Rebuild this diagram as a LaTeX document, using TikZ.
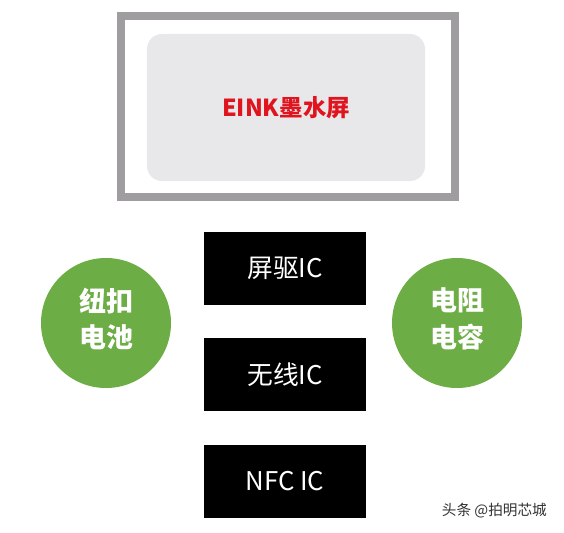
\documentclass[tikz,border=0pt]{standalone}
\usepackage{fontspec}
\setmainfont{Noto Sans CJK SC}
\usepackage{xcolor}
\usepackage{tikz}
\usetikzlibrary{positioning}

\definecolor{framegray}{HTML}{A09DA1}
\definecolor{screengray}{HTML}{E8E8EA}
\definecolor{einkred}{HTML}{E0141E}
\definecolor{partgreen}{HTML}{6DAD45}

\begin{document}
\begin{tikzpicture}
[
	x = 0.03cm, y = -0.03cm,
	node distance = 0.99cm and 0.6cm,
	frame/.style = {draw = framegray, line width = 0.22cm, minimum width = 10.02cm, minimum height = 5.43cm},
	screen/.style = {rounded corners = 0.45cm, fill = screengray, minimum width = 8.34cm, minimum height = 4.41cm, font = \bfseries\fontsize{20}{24}\selectfont, text = einkred},
	chip/.style = {fill = black, minimum width = 4.86cm, minimum height = 2.19cm, text = white, font = \fontsize{22}{26}\selectfont},
	part/.style = {circle, fill = partgreen, minimum size = 3.9cm, inner sep = 0cm, text = white, align = center, font = \bfseries\fontsize{23}{31}\selectfont},
]

	\useasboundingbox [fill = white] (0,0) rectangle (564,532);

	% display
	\node (frame) [frame] at (288,106.5) {};
	\node (eink) [screen] at (286,107.5) {EINK墨水屏};

	% ICs
	\node (drv) [chip] at (285,268.5) {屏驱IC};
	\node (rf) [chip, below = of drv] {无线IC};
	\node (nfc) [chip, below = of rf] {NFC IC};

	% passive parts
	\node (cell) [part] at (106,323) {};
	\node (rc) [part] at (457,323) {};
	\node (celltext) [part, fill = none, yshift = 0.12cm] at (cell) {纽扣\\电池};
	\node (rctext) [part, fill = none, yshift = 0.12cm] at (rc) {电阻\\电容};

	% mark
	\node (mark) [text = black!80, font = \fontsize{12.5}{14}\selectfont, anchor = east] at (551,511) {头条 @拍明芯城};

\end{tikzpicture}
\end{document}
